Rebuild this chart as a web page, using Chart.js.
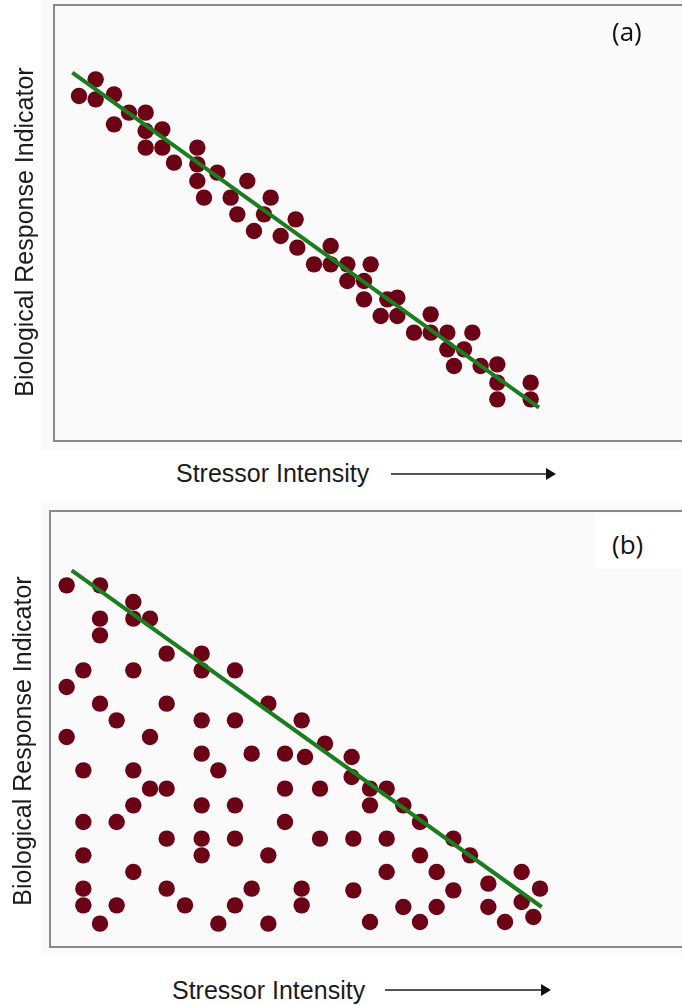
<!DOCTYPE html>
<html>
<head>
<meta charset="utf-8">
<script src="https://cdn.jsdelivr.net/npm/chart.js@4"></script>
<style>
  html, body { margin: 0; padding: 0; background: #fff; overflow: hidden; }
  body { width: 682px; height: 1005px; position: relative; }
  .panel-bg { position: absolute; background: #fafafa; }
  canvas { position: absolute; left: 0; }
  .xlab { position: absolute; font-family: "Liberation Sans", Arial, sans-serif; font-size: 25px; color: #1b1b1b; line-height: 1; white-space: nowrap; }
  .ylab { position: absolute; font-family: "Liberation Sans", Arial, sans-serif; font-size: 25px; color: #1b1b1b; line-height: 1; white-space: nowrap;
          transform: translate(-50%, -50%) rotate(-90deg); }
  .tag { position: absolute; font-family: "Open Sans", sans-serif; font-size: 26px; color: #111; line-height: 1; }
  .arrow { position: absolute; height: 2px; background: #555; }
  .arrow:after { content: ""; position: absolute; right: -9px; top: -5px; border-left: 10px solid #111; border-top: 6px solid transparent; border-bottom: 6px solid transparent; }
</style>
</head>
<body>
<div class="panel-bg" style="left:41px;top:0;width:641px;height:450px"></div>
<div class="panel-bg" style="left:41px;top:503px;width:641px;height:452px"></div>

<canvas id="chartA" width="720" height="450" style="top:0"></canvas>
<canvas id="chartB" width="720" height="455" style="top:500px"></canvas>

<div class="tag" style="left:612px;top:18px">(a)</div>
<div style="position:absolute;left:595px;top:513px;width:87px;height:56px;background:#fff"></div>
<div class="tag" style="left:612px;top:531px">(b)</div>

<div class="ylab" style="left:24px;top:232px">Biological Response Indicator</div>
<div class="ylab" style="left:22px;top:741px">Biological Response Indicator</div>

<div class="xlab" style="left:176px;top:461px">Stressor Intensity</div>
<div class="arrow" style="left:391px;top:473px;width:156px"></div>
<div class="xlab" style="left:172px;top:978px">Stressor Intensity</div>
<div class="arrow" style="left:385px;top:989px;width:157px"></div>

<script>
// panel (a): tight linear relation
var stressA = [1.5, 2.5, 2.5, 3.6, 3.6, 4.5, 5.5, 5.5, 6.5, 5.5, 6.5, 7.2, 8.6, 8.6, 8.6, 9.8, 9.0, 10.6,
               11.6, 13.0, 11.0, 12.6, 12.0, 13.6, 14.5, 14.6, 16.6, 15.6, 16.6, 17.6, 19.0, 17.6, 18.6,
               18.6, 20.0, 20.6, 19.6, 20.6, 22.6, 21.6, 22.6, 23.6, 25.1, 23.6, 24.6, 24.0, 25.6, 26.6,
               26.6, 26.6, 28.6, 28.6];
var responseA = [20.7, 21.7, 20.5, 20.8, 19.0, 19.7, 19.7, 18.6, 18.7, 17.6, 17.6, 16.7, 17.6, 16.6, 15.6, 16.1, 14.6, 14.6,
                 15.6, 14.6, 13.6, 13.6, 12.6, 12.3, 13.3, 11.6, 11.7, 10.6, 10.6, 10.6, 10.6, 9.6, 9.6,
                 8.5, 8.5, 8.6, 7.5, 7.5, 7.6, 6.5, 6.5, 6.5, 6.5, 5.5, 5.5, 4.5, 4.5, 4.6,
                 3.5, 2.5, 3.5, 2.5];
var fitA_x = [1.1, 29.1];
var fitA_y = [22.1, 2.0];

// panel (b): upper bound only (wedge)
var stressB = [1.0, 3.0, 5.0, 3.0, 5.0, 6.0, 3.0, 7.0, 9.1, 2.0, 5.0, 9.1, 11.1, 1.0, 3.0, 7.0, 13.1, 4.0,
               9.1, 11.1, 15.1, 1.0, 6.0, 9.1, 12.1, 14.1, 15.3,
               2.0, 5.0, 10.1, 6.0, 7.0, 14.1, 5.0, 9.1, 11.1, 2.0, 4.0, 14.1, 7.0, 9.1, 11.1, 2.0, 9.1,
               13.1, 5.0, 2.0, 7.0, 12.1, 15.1, 2.0, 4.0, 8.1, 11.1, 15.1, 3.0, 10.1, 13.1,
               16.5, 18.1, 18.1, 16.2, 19.2, 20.2, 19.2, 21.2, 22.2, 16.2, 18.2, 20.2, 24.2, 22.2, 25.2,
               20.2, 23.2, 28.3, 18.2, 24.2, 26.3, 29.4, 21.2, 23.2, 26.3, 28.3, 19.2, 22.2, 27.3, 29.0];
var responseB = [21.7, 21.7, 20.7, 19.7, 19.7, 19.7, 18.7, 17.6, 17.6, 16.6, 16.6, 16.6, 16.6, 15.6, 14.6, 14.6, 14.6, 13.6,
                 13.6, 13.6, 13.6, 12.6, 12.6, 11.6, 11.6, 11.6, 11.4,
                 10.6, 10.6, 10.6, 9.5, 9.5, 9.5, 8.5, 8.5, 8.5, 7.5, 7.5, 7.5, 6.5, 6.5, 6.5, 5.5, 5.5,
                 5.5, 4.5, 3.5, 3.5, 3.5, 3.5, 2.5, 2.5, 2.5, 2.5, 2.5, 1.4, 1.4, 1.4,
                 12.2, 11.4, 10.2, 9.5, 9.5, 9.5, 8.5, 8.5, 7.5, 6.5, 6.5, 6.5, 6.5, 5.5, 5.5,
                 4.5, 4.5, 4.5, 3.4, 3.4, 3.8, 3.5, 2.4, 2.4, 2.4, 2.7, 1.5, 1.5, 1.5, 1.8];
var fitB_x = [1.3, 29.5];
var fitB_y = [22.6, 2.4];

var dotColor = '#6c0216';
var lineColor = '#1b7d20';

function pairs(xs, ys) {
    return xs.map(function (x, i) { return {x: x, y: ys[i]}; });
}

// box round the plot area
var framePlugin = {
    id: 'frame',
    beforeDatasetsDraw: function (chart) {
        var a = chart.chartArea, ctx = chart.ctx;
        ctx.save();
        ctx.strokeStyle = '#8a8a8a';
        ctx.lineWidth = 2;
        ctx.strokeRect(a.left, a.top, a.right - a.left, a.bottom - a.top);
        ctx.restore();
    }
};

function loadScatter(canvas_id, xs, ys, fx, fy, padding) {
    var ctx = document.getElementById(canvas_id).getContext('2d');
    return new Chart(ctx, {
        type: 'scatter',
        data: {
            datasets: [{
                type: 'line',
                data: pairs(fx, fy),
                borderColor: lineColor,
                borderWidth: 4,
                pointRadius: 0,
                fill: false,
                clip: false,
                order: 0
            }, {
                data: pairs(xs, ys),
                backgroundColor: dotColor,
                borderWidth: 0,
                pointRadius: 8.2,
                clip: false,
                order: 1
            }]
        },
        options: {
            responsive: false,
            animation: false,
            layout: { padding: padding, autoPadding: false },
            plugins: { legend: { display: false }, tooltip: { enabled: false } },
            scales: {
                x: { type: 'linear', min: 0, max: 39, display: false },
                y: { type: 'linear', min: 0, max: 26.16, display: false }
            }
        },
        plugins: [framePlugin]
    });
}

loadScatter('chartA', stressA, responseA, fitA_x, fitA_y, {left: 54, right: 16, top: 5, bottom: 9});
loadScatter('chartB', stressB, responseB, fitB_x, fitB_y, {left: 50, right: 20, top: 11, bottom: 8});
</script>
</body>
</html>
